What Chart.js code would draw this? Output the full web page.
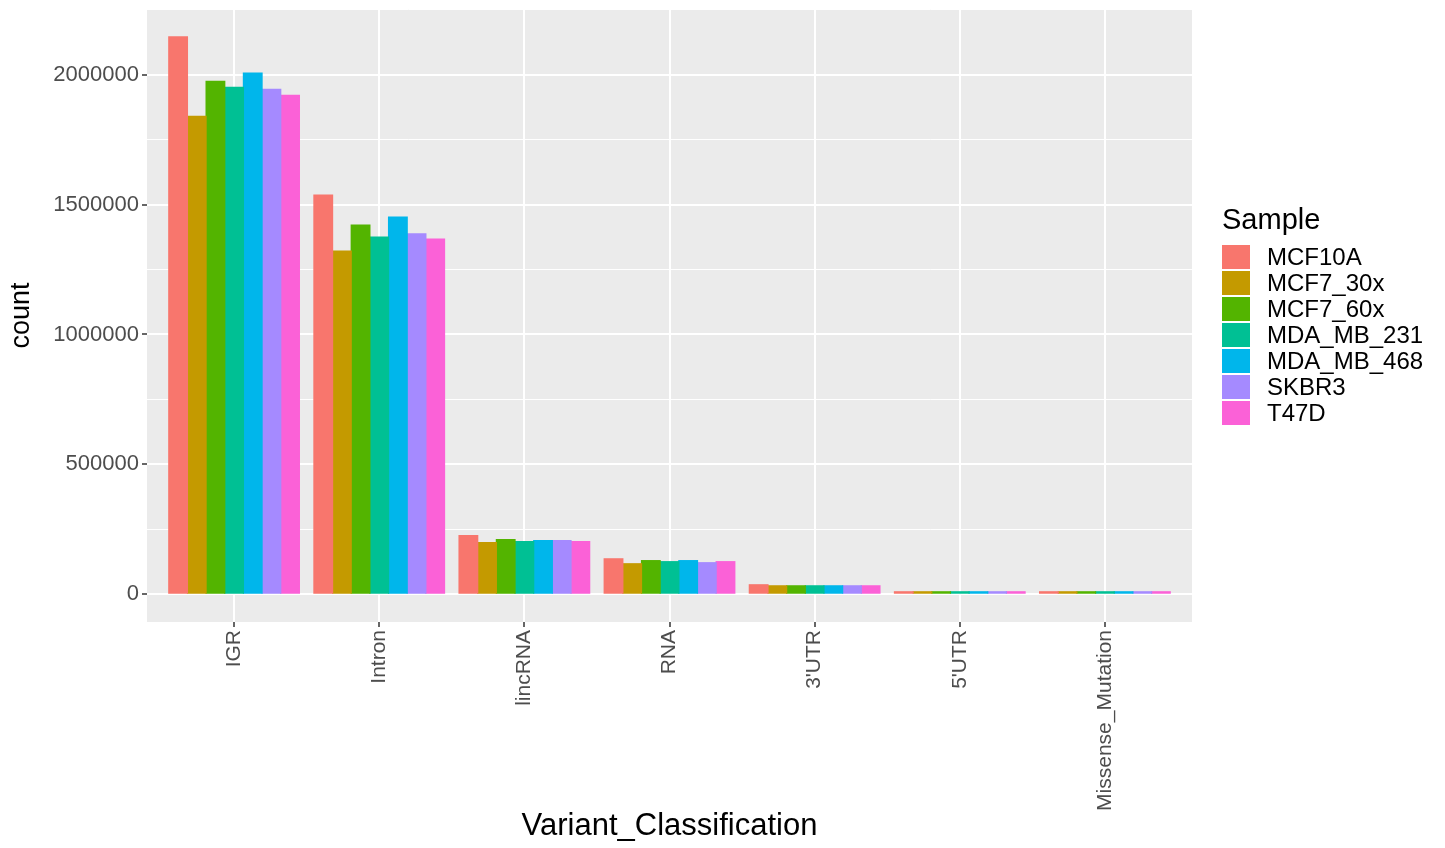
<!DOCTYPE html>
<html lang="es">
<head>
<meta charset="utf-8">
<title>Variant_Classification</title>
<script src="https://cdn.jsdelivr.net/npm/chart.js@4.4.1/dist/chart.umd.min.js"></script>
<style>
    html, body { margin: 0; padding: 0; background: #ffffff; }
    .wrap { position: relative; width: 1445px; height: 848px; font-family: "Liberation Sans", Arial, sans-serif; }
    #barChart { position: absolute; left: 0; top: 0; }
    .legend { position: absolute; left: 1222px; top: 205px; }
    .legend-title { font-size: 29px; line-height: 29px; color: #000000; margin-bottom: 11px; }
    .legend-item { display: flex; align-items: center; height: 24px; margin-bottom: 2px; }
    .legend-key { width: 28px; height: 24px; margin-right: 17px; }
    .legend-label { font-size: 24px; color: #000000; }
</style>
</head>
<body>
<div class="wrap">
    <canvas id="barChart" width="1445" height="848"></canvas>
    <div class="legend" id="legend">
        <div class="legend-title">Sample</div>
    </div>
</div>
<script>
// Categorías del eje X
const categorias = ['IGR', 'Intron', 'lincRNA', 'RNA', "3'UTR", "5'UTR", 'Missense_Mutation'];

// Muestras (una serie por muestra) y sus colores
const muestras = ['MCF10A', 'MCF7_30x', 'MCF7_60x', 'MDA_MB_231', 'MDA_MB_468', 'SKBR3', 'T47D'];
const colores = ['#F8766D', '#C49A00', '#53B400', '#00C094', '#00B6EB', '#A58AFF', '#FB61D7'];

// Conteos (mismo orden que categorias)
const MCF10A     = [2146000, 1537000, 225000, 136000, 36000, 9000, 9000];
const MCF7_30x   = [1840000, 1321000, 198000, 117000, 32000, 9000, 9000];
const MCF7_60x   = [1975000, 1421000, 210000, 129000, 32000, 9000, 9000];
const MDA_MB_231 = [1952000, 1375000, 202000, 125000, 32000, 9000, 9000];
const MDA_MB_468 = [2006000, 1452000, 206000, 129000, 32000, 9000, 9000];
const SKBR3      = [1944000, 1387000, 206000, 121000, 32000, 9000, 9000];
const T47D       = [1921000, 1367000, 202000, 125000, 32000, 9000, 9000];

// Marcas del eje Y (mayores con etiqueta, menores solo línea)
const ticksYMayores = [0, 500000, 1000000, 1500000, 2000000];
const ticksYMenores = [250000, 750000, 1250000, 1750000, 2250000];

document.addEventListener('DOMContentLoaded', () => {
    const series = [MCF10A, MCF7_30x, MCF7_60x, MDA_MB_231, MDA_MB_468, SKBR3, T47D];
    const ticksY = ticksYMayores.concat(ticksYMenores).sort((a, b) => a - b);
    const esMayor = (v) => ticksYMayores.includes(v);

    // Fondo gris del panel (estilo ggplot)
    const fondoPanel = {
        id: 'fondoPanel',
        beforeDraw(chart) {
            const { ctx, chartArea } = chart;
            ctx.save();
            ctx.fillStyle = '#EBEBEB';
            ctx.fillRect(chartArea.left, chartArea.top, chartArea.width, chartArea.height);
            ctx.restore();
        }
    };

    const ctxBarras = document.getElementById('barChart');

    new Chart(ctxBarras, {
        type: 'bar',
        data: {
            datasets: muestras.map((m, i) => ({
                label: m,
                data: series[i].map((v, j) => ({ x: j, y: v })),
                backgroundColor: colores[i],
                borderWidth: 0,
                inflateAmount: 0.6,
                categoryPercentage: 0.9,
                barPercentage: 1.0
            }))
        },
        options: {
            responsive: false,
            animation: false,
            devicePixelRatio: 1,
            layout: { padding: { left: 0, top: 9, right: 253, bottom: 0 } },
            plugins: {
                legend: { display: false },
                tooltip: { enabled: false }
            },
            scales: {
                x: {
                    type: 'linear',
                    min: -0.6,
                    max: 6.6,
                    offset: false,
                    afterBuildTicks: (s) => { s.ticks = categorias.map((c, i) => ({ value: i })); },
                    afterFit: (s) => { s.height = 226; s.paddingLeft = 0; s.paddingRight = 0; },
                    grid: { offset: false, color: '#FFFFFF', lineWidth: 2, tickColor: '#333333', tickLength: 5, tickWidth: 1.5 },
                    border: { display: false },
                    ticks: {
                        autoSkip: false,
                        maxRotation: 90,
                        minRotation: 90,
                        padding: 3,
                        color: '#4D4D4D',
                        font: { family: '"Liberation Sans", Arial, sans-serif', size: 21 },
                        callback: (v) => categorias[v]
                    },
                    title: {
                        display: true,
                        text: 'Variant_Classification',
                        color: '#000000',
                        font: { family: '"Liberation Sans", Arial, sans-serif', size: 31 },
                        padding: { top: 4, bottom: 3 }
                    }
                },
                y: {
                    type: 'linear',
                    min: -107300,
                    max: 2253300,
                    afterBuildTicks: (s) => { s.ticks = ticksY.map((v) => ({ value: v })); },
                    afterFit: (s) => { s.width = 147; s.paddingTop = 0; s.paddingBottom = 0; },
                    grid: {
                        color: '#FFFFFF',
                        lineWidth: (c) => (c.tick && esMayor(c.tick.value) ? 2 : 1),
                        tickColor: (c) => (c.tick && esMayor(c.tick.value) ? '#333333' : 'rgba(0,0,0,0)'),
                        tickLength: 5,
                        tickWidth: 1.5
                    },
                    border: { display: false },
                    ticks: {
                        padding: 3,
                        color: '#4D4D4D',
                        font: { family: '"Liberation Sans", Arial, sans-serif', size: 22 },
                        callback: (v) => (esMayor(v) ? String(v) : '')
                    },
                    title: {
                        display: true,
                        text: 'count',
                        color: '#000000',
                        font: { family: '"Liberation Sans", Arial, sans-serif', size: 27 },
                        padding: { top: 5, bottom: 0 }
                    }
                }
            }
        },
        plugins: [fondoPanel]
    });

    // Leyenda (HTML) con las muestras
    const leyenda = document.getElementById('legend');
    muestras.forEach((m, i) => {
        const item = document.createElement('div');
        item.className = 'legend-item';
        const key = document.createElement('div');
        key.className = 'legend-key';
        key.style.background = colores[i];
        const label = document.createElement('span');
        label.className = 'legend-label';
        label.textContent = m;
        item.appendChild(key);
        item.appendChild(label);
        leyenda.appendChild(item);
    });
});
</script>
</body>
</html>
